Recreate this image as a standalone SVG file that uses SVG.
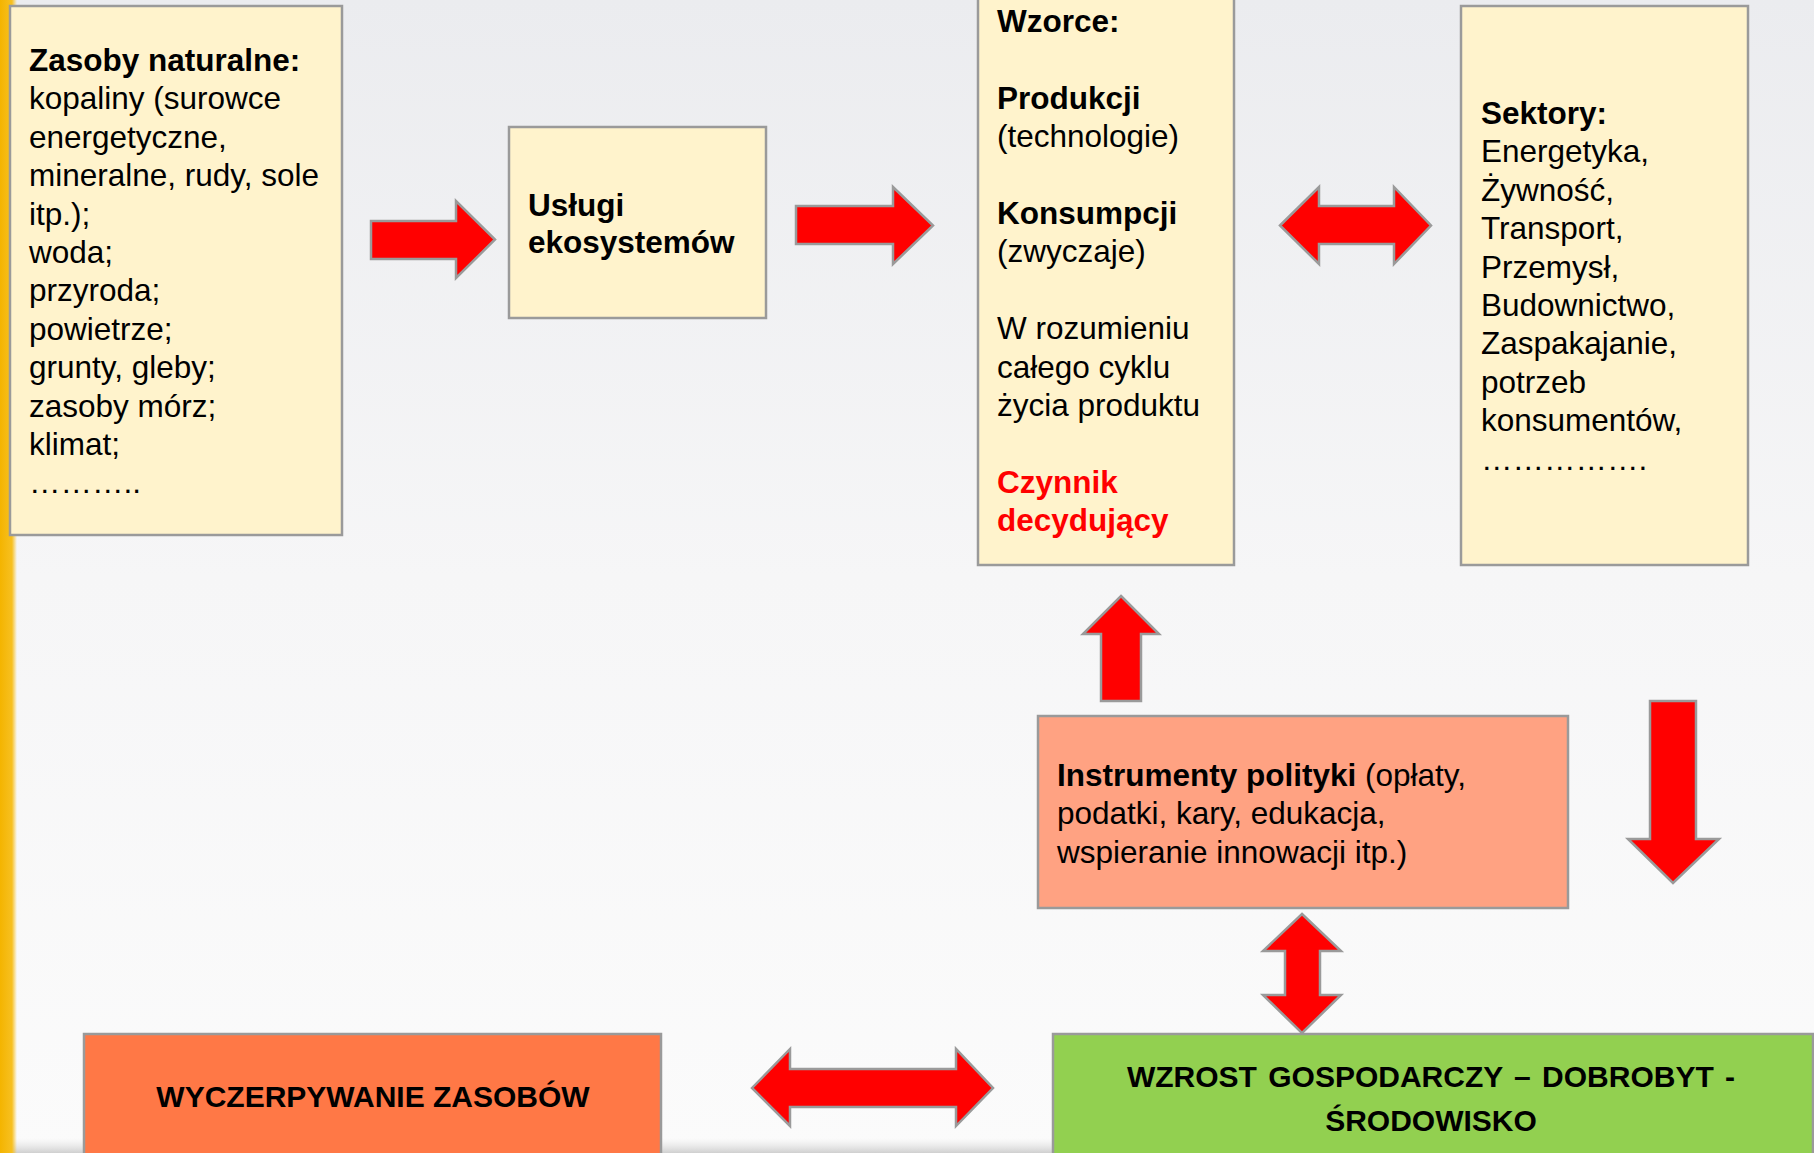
<svg xmlns="http://www.w3.org/2000/svg" width="1814" height="1153" viewBox="0 0 1814 1153">
<defs>
<linearGradient id="bg" x1="0" y1="0" x2="0" y2="1">
<stop offset="0" stop-color="#EBECEF"/>
<stop offset="0.5" stop-color="#F6F6F7"/>
<stop offset="1" stop-color="#FBFBFB"/>
</linearGradient>
<linearGradient id="stripe" x1="0" y1="0" x2="1" y2="0">
<stop offset="0" stop-color="#F4B400"/>
<stop offset="0.7" stop-color="#F7C020"/>
<stop offset="1" stop-color="#F7C020" stop-opacity="0"/>
</linearGradient>
<linearGradient id="foot" x1="0" y1="0" x2="0" y2="1">
<stop offset="0" stop-color="#E6E6E6" stop-opacity="0"/>
<stop offset="1" stop-color="#CFCFCF"/>
</linearGradient>
</defs>
<style>
.box{stroke:#9A9A9A;stroke-width:2.5}
.y{fill:#FFF3CC}
.t{font-family:"Liberation Sans",Arial,sans-serif;font-size:31.5px;fill:#000}
.b{font-weight:bold}
.cap{font-family:"Liberation Sans",Arial,sans-serif;font-size:30px;font-weight:bold;fill:#000;text-anchor:middle}
.arr{fill:#FF0000;stroke:#9A9A9A;stroke-width:2.5;stroke-linejoin:miter}
</style>
<rect width="1814" height="1153" fill="url(#bg)"/>
<rect x="0" y="1138" width="1814" height="15" fill="url(#foot)"/>
<rect x="0" y="0" width="17" height="1153" fill="url(#stripe)"/>

<g id="zasoby">
<rect class="box y" x="10" y="6" width="332" height="529"/>
<text class="t" x="29">
<tspan x="29" y="71" class="b">Zasoby naturalne:</tspan>
<tspan x="29" y="109.4">kopaliny (surowce</tspan>
<tspan x="29" y="147.8">energetyczne,</tspan>
<tspan x="29" y="186.2">mineralne, rudy, sole</tspan>
<tspan x="29" y="224.6">itp.);</tspan>
<tspan x="29" y="263">woda;</tspan>
<tspan x="29" y="301.4">przyroda;</tspan>
<tspan x="29" y="339.8">powietrze;</tspan>
<tspan x="29" y="378.2">grunty, gleby;</tspan>
<tspan x="29" y="416.6">zasoby mórz;</tspan>
<tspan x="29" y="455">klimat;</tspan>
<tspan x="29" y="493.4">………..</tspan>
</text>
</g>

<g id="uslugi">
<rect class="box y" x="509" y="127" width="257" height="191"/>
<text class="t b" x="528">
<tspan x="528" y="216">Usługi</tspan>
<tspan x="528" y="253">ekosystemów</tspan>
</text>
</g>

<g id="wzorce">
<rect class="box y" x="978" y="-5" width="256" height="570"/>
<text class="t" x="997">
<tspan x="997" y="32" class="b">Wzorce:</tspan>
<tspan x="997" y="108.8" class="b">Produkcji</tspan>
<tspan x="997" y="147.2">(technologie)</tspan>
<tspan x="997" y="224" class="b">Konsumpcji</tspan>
<tspan x="997" y="262.4">(zwyczaje)</tspan>
<tspan x="997" y="339.2">W rozumieniu</tspan>
<tspan x="997" y="377.6">całego cyklu</tspan>
<tspan x="997" y="416">życia produktu</tspan>
<tspan x="997" y="492.8" class="b" fill="#FF0000">Czynnik</tspan>
<tspan x="997" y="531.2" class="b" fill="#FF0000">decydujący</tspan>
</text>
</g>

<g id="sektory">
<rect class="box y" x="1461" y="6" width="287" height="559"/>
<text class="t" x="1481">
<tspan x="1481" y="124" class="b">Sektory:</tspan>
<tspan x="1481" y="162.4">Energetyka,</tspan>
<tspan x="1481" y="200.8">Żywność,</tspan>
<tspan x="1481" y="239.2">Transport,</tspan>
<tspan x="1481" y="277.6">Przemysł,</tspan>
<tspan x="1481" y="316">Budownictwo,</tspan>
<tspan x="1481" y="354.4">Zaspakajanie,</tspan>
<tspan x="1481" y="392.8">potrzeb</tspan>
<tspan x="1481" y="431.2">konsumentów,</tspan>
<tspan x="1481" y="469.6">…………….</tspan>
</text>
</g>

<g id="instrumenty">
<rect class="box" fill="#FFA282" x="1038" y="716" width="530" height="192"/>
<text class="t" x="1057">
<tspan x="1057" y="786"><tspan class="b">Instrumenty polityki</tspan> (opłaty,</tspan>
<tspan x="1057" y="824.4">podatki, kary, edukacja,</tspan>
<tspan x="1057" y="862.8">wspieranie innowacji itp.)</tspan>
</text>
</g>

<g id="wyczerpywanie">
<rect class="box" fill="#FF7846" x="84" y="1034" width="577" height="130"/>
<text class="cap" x="373" y="1107">WYCZERPYWANIE ZASOBÓW</text>
</g>

<g id="wzrost">
<rect class="box" fill="#92D050" x="1053" y="1034" width="760" height="130"/>
<text class="cap" x="1431" y="1087" word-spacing="3">WZROST GOSPODARCZY – DOBROBYT -</text>
<text class="cap" x="1431" y="1131">ŚRODOWISKO</text>
</g>

<g id="connectors">
<polygon class="arr" points="371,221 456,221 456,201 495,239.5 456,278 456,259 371,259"/>
<polygon class="arr" points="796,206 893,206 893,187 933,225.5 893,264 893,244 796,244"/>
<polygon class="arr" points="1280,225.5 1319,187 1319,206 1394,206 1394,187 1431,225.5 1394,264 1394,244 1319,244 1319,264"/>
<polygon class="arr" points="1121,596 1159,634 1141,634 1141,701 1101,701 1101,634 1083,634"/>
<polygon class="arr" points="1650,701 1696,701 1696,839 1719,839 1673,883 1628,839 1650,839"/>
<polygon class="arr" points="1302,914 1341,951 1320,951 1320,995 1341,995 1302,1033 1263,995 1285,995 1285,951 1263,951"/>
<polygon class="arr" points="752,1088 790,1049 790,1069 956,1069 956,1049 993,1088 956,1126 956,1107 790,1107 790,1126"/>
</g>
</svg>
